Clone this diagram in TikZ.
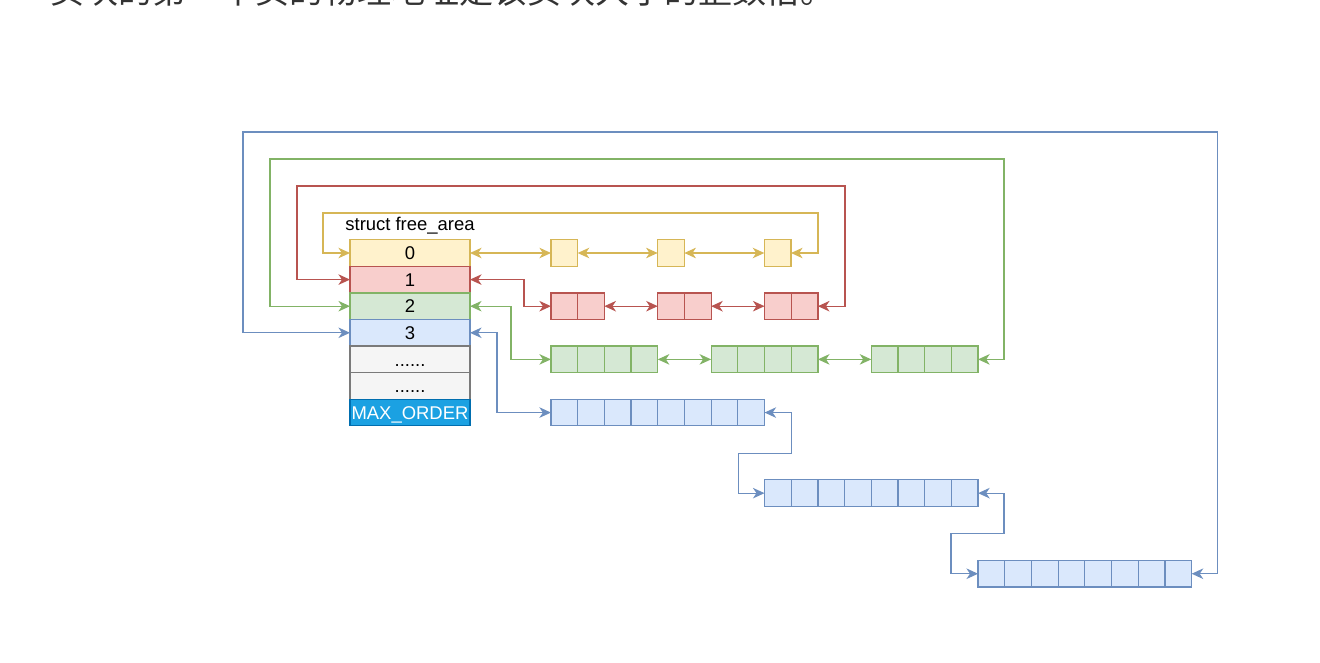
\documentclass[tikz,border=0pt]{standalone}
\usepackage{fontspec}
\setmainfont{Liberation Sans}
\newfontfamily\cjkfont{Noto Sans CJK SC}
\usepackage{xcolor}
\usetikzlibrary{arrows.meta,positioning,calc}

\definecolor{ylwline}{HTML}{D6B656}
\definecolor{ylwfill}{HTML}{FFF2CC}
\definecolor{redline}{HTML}{B85450}
\definecolor{redfill}{HTML}{F8CECC}
\definecolor{grnline}{HTML}{82B366}
\definecolor{grnfill}{HTML}{D5E8D4}
\definecolor{bluline}{HTML}{6C8EBF}
\definecolor{blufill}{HTML}{DAE8FC}
\definecolor{gryline}{HTML}{7A7A7A}
\definecolor{gryfill}{HTML}{F5F5F5}
\definecolor{maxline}{HTML}{006EAF}
\definecolor{maxfill}{HTML}{1BA1E2}
\definecolor{txtgray}{HTML}{333333}

\begin{document}
\begin{tikzpicture}[x=0.02cm,y=-0.02cm,
	font=\fontsize{10.5}{12.6}\selectfont,
	line width=0.7pt,
	>={Stealth[length=6.6pt,width=6pt,inset=2pt]},
	slot/.style={draw,outer sep=0pt,inner sep=0pt,minimum width=2.4cm,minimum height=0.532cm,text height=1.45ex,text depth=0pt},
	blk/.style={draw,outer sep=0pt,inner sep=0pt,minimum height=0.532cm},
	ylw/.style={blk,draw=ylwline,fill=ylwfill,minimum width=0.534cm},
	rd/.style={blk,draw=redline,fill=redfill,minimum width=1.068cm},
	grn/.style={blk,draw=grnline,fill=grnfill,minimum width=2.136cm},
	blu/.style={blk,draw=bluline,fill=blufill,minimum width=4.272cm}]
	\useasboundingbox (0,0) rectangle (1320,663);
	\node [anchor=base west,inner sep=0pt,text=txtgray,font=\cjkfont\fontsize{19.4}{22}\selectfont] (intro) at (50,3) {页块的第一个页的物理地址是该页块大小的整数倍。};

	\node [slot,draw=ylwline,fill=ylwfill] (fa0) at (410,253) {0};
	\node [slot,draw=redline,fill=redfill,below=0pt of fa0] (fa1) {1};
	\node [slot,draw=grnline,fill=grnfill,below=0pt of fa1] (fa2) {2};
	\node [slot,draw=bluline,fill=blufill,below=0pt of fa2] (fa3) {3};
	\node [slot,draw=gryline,fill=gryfill,below=0pt of fa3] (fa4) {......};
	\node [slot,draw=gryline,fill=gryfill,below=0pt of fa4] (fa5) {......};
	\node [slot,draw=maxline,fill=maxfill,text=white,below=0pt of fa5] (fa6) {MAX\_ORDER};
	\node [above=0.09cm of fa0,inner sep=0pt] (title) {struct free\_area};

	\node [ylw,right=1.62cm of fa0] (y1) {};
	\node [ylw,right=1.6cm of y1] (y2) {};
	\node [ylw,right=1.6cm of y2] (y3) {};
	\node [rd,right=1.62cm of fa2] (r1) {};
	\node [rd,right=1.068cm of r1] (r2) {};
	\node [rd,right=1.068cm of r2] (r3) {};
	\node [grn,right=1.62cm of fa4] (g1) {};
	\node [grn,right=1.068cm of g1] (g2) {};
	\node [grn,right=1.068cm of g2] (g3) {};
	\node [blu,right=1.62cm of fa6] (b1) {};
	\node [blu,below right=1.08cm and 0cm of b1] (b2) {};
	\node [blu,below right=1.08cm and 0cm of b2] (b3) {};

	\foreach \blk/\n/\col in {r1/2/redline,r2/2/redline,r3/2/redline,g1/4/grnline,g2/4/grnline,g3/4/grnline,b1/8/bluline,b2/8/bluline,b3/8/bluline}
		\foreach \i in {1,...,\n}
			\draw [\col] ($(\blk.north west)!\i/\n!(\blk.north east)$) -- ($(\blk.south west)!\i/\n!(\blk.south east)$);

	\draw [ylwline,<->] (fa0) -- (y1);
	\draw [ylwline,<->] (y1) -- (y2);
	\draw [ylwline,<->] (y2) -- (y3);
	\draw [ylwline,<->] (y3.east) -- ++(27,0) |- (323,213) |- (fa0.west);

	\draw [redline,<->] (fa1.east) -- ++(54,0) |- (r1.west);
	\draw [redline,<->] (r1) -- (r2);
	\draw [redline,<->] (r2) -- (r3);
	\draw [redline,<->] (r3.east) -- ++(27,0) |- (297,186) |- (fa1.west);

	\draw [grnline,<->] (fa2.east) -- ++(41,0) |- (g1.west);
	\draw [grnline,<->] (g1) -- (g2);
	\draw [grnline,<->] (g2) -- (g3);
	\draw [grnline,<->] (g3.east) -- ++(26,0) |- (270,159) |- (fa2.west);

	\draw [bluline,<->] (fa3.east) -- ++(27,0) |- (b1.west);
	\draw [bluline,<->] (b1.east) -- ++(27,0) -- ++(0,41) -- ++(-53,0) |- (b2.west);
	\draw [bluline,<->] (b2.east) -- ++(26,0) -- ++(0,40) -- ++(-53,0) |- (b3.west);
	\draw [bluline,<->] (b3.east) -- ++(26,0) |- (243,132) |- (fa3.west);
\end{tikzpicture}
\end{document}
